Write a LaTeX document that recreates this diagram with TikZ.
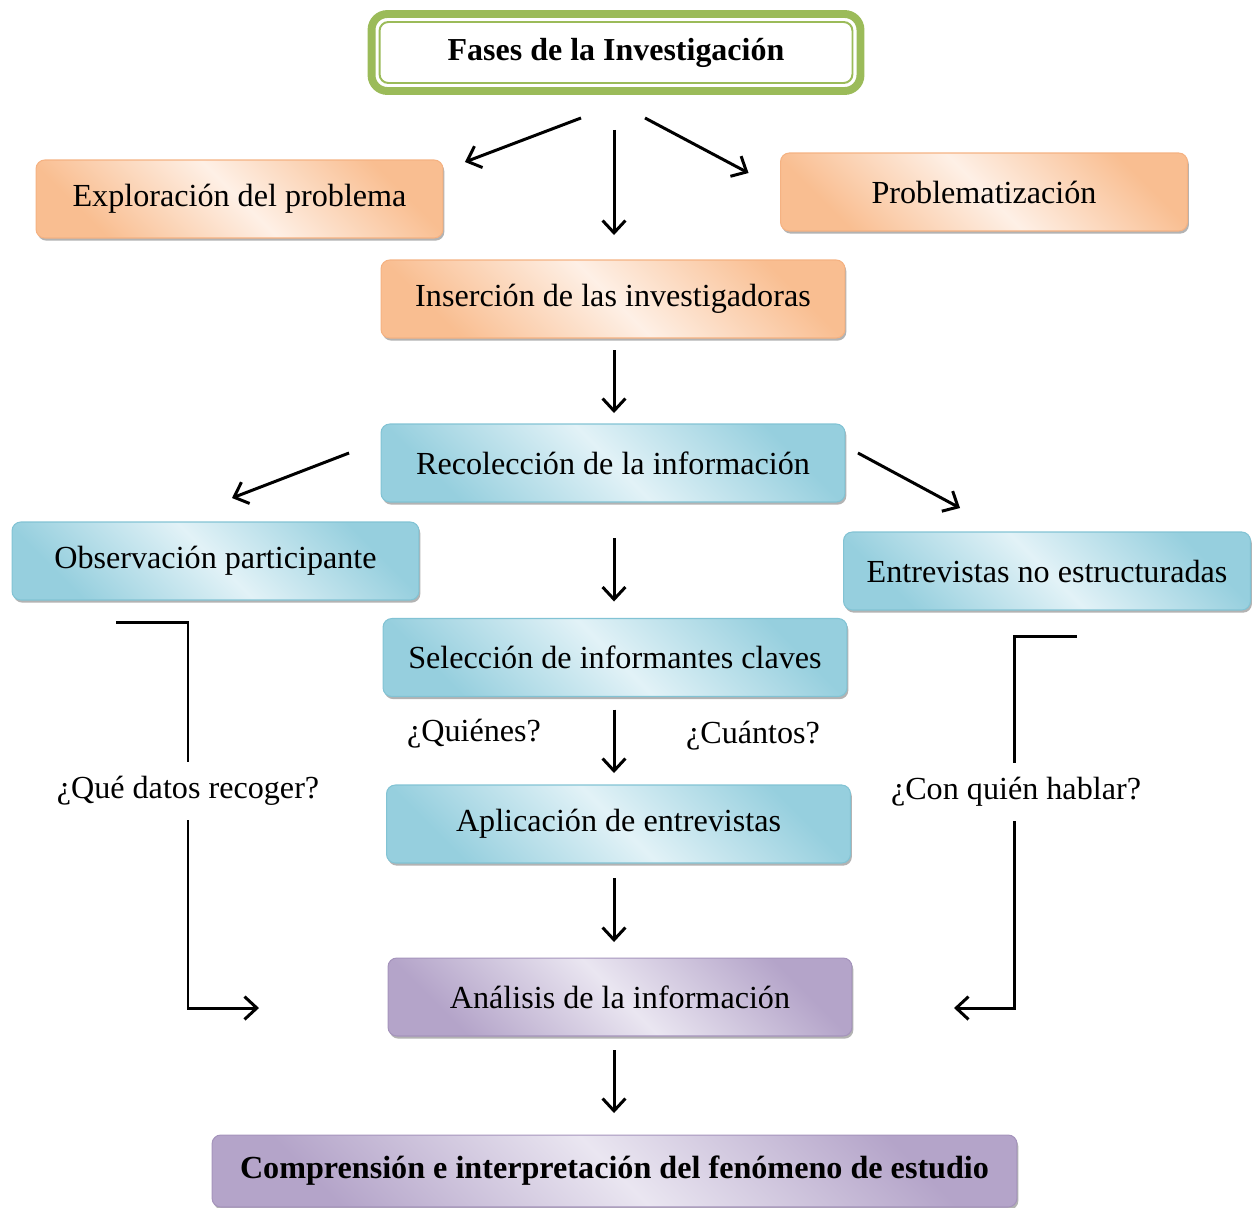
\documentclass[tikz,border=0pt]{standalone}
\usepackage{fontspec}
\setmainfont{Liberation Serif}
\usetikzlibrary{arrows.meta, positioning, calc, shadows}

\definecolor{titlegreen}{RGB}{155, 187, 89}
\definecolor{orangedark}{RGB}{249, 190, 145}
\definecolor{orangelight}{RGB}{254, 240, 230}
\definecolor{orangeline}{RGB}{245, 178, 130}
\definecolor{bluedark}{RGB}{150, 207, 222}
\definecolor{bluelight}{RGB}{226, 242, 247}
\definecolor{blueline}{RGB}{130, 195, 212}
\definecolor{purpledark}{RGB}{180, 164, 201}
\definecolor{purplelight}{RGB}{234, 230, 241}
\definecolor{purpleline}{RGB}{165, 148, 188}

\tikzset{
  phase/.style={rounded corners=5pt, outer sep=0pt, minimum height=1.56cm,
    font=\fontsize{18.3}{21}\selectfont, line width=0.6pt,
    drop shadow={shadow xshift=0.8pt, shadow yshift=-1.5pt, fill=black!50, opacity=0.6}},
  orangebox/.style={phase, minimum width=8.14cm, draw=orangeline,
    left color=orangedark, right color=orangedark, middle color=orangelight, shading angle=135},
  bluebox/.style={phase, minimum width=9.28cm, draw=blueline,
    left color=bluedark, right color=bluedark, middle color=bluelight, shading angle=135},
  purplebox/.style={phase, minimum width=9.28cm, draw=purpleline,
    left color=purpledark, right color=purpledark, middle color=purplelight, shading angle=135},
  question/.style={font=\fontsize{18.3}{21}\selectfont, inner ysep=8pt},
  line/.style={line width=1.7pt},
  arr/.style={line width=1.7pt, -{Straight Barb[length=7pt, width=13pt, line width=1.7pt]}}
}

\begin{document}
\begin{tikzpicture}[x=0.02cm, y=-0.02cm]
  \useasboundingbox (0,0) rectangle (1256,1207);

  % Title
  \node[draw=titlegreen, line width=4.5pt, rounded corners=9pt, fill=white, outer sep=0pt,
        minimum width=9.78cm, minimum height=1.54cm, font=\fontsize{18.2}{21}\selectfont\bfseries]
        (title) at (616,52.5) {Fases de la Investigación};
  \draw[titlegreen, line width=1.1pt, rounded corners=5pt]
        ([shift={(8,8)}]title.north west) rectangle ([shift={(-8,-8)}]title.south east);

  % First phases
  \node[orangebox] (explora) at (239.5,199) {Exploración del problema};
  \node[orangebox] (problema) at (984,192) {Problematización};
  \node[orangebox, minimum width=9.28cm] (insercion) at (613,299) {Inserción de las investigadoras};

  % Data collection
  \node[bluebox] (recoleccion) at (613,463) {Recolección de la información};
  \node[bluebox, minimum width=8.14cm] (observacion) at (215.5,561) {Observación participante};
  \node[bluebox, minimum width=8.14cm] (entrevistas) at (1047,571) {Entrevistas no estructuradas};
  \node[bluebox] (seleccion) at (615,657.5) {Selección de informantes claves};
  \node[bluebox] (aplicacion) at (618.5,824) {Aplicación de entrevistas};

  % Analysis
  \node[purplebox] (analisis) at (620,997) {Análisis de la información};
  \node[purplebox, minimum width=16.1cm, minimum height=1.44cm, font=\fontsize{18.3}{21}\selectfont\bfseries]
        (comprension) at (614.5,1171) {Comprensión e interpretación del fenómeno de estudio};

  % Questions
  \node[question] (quienes) at (474,734) {¿Quiénes?};
  \node[question] (cuantos) at (753,736) {¿Cuántos?};
  \node[question] (quedatos) at (188,791) {¿Qué datos recoger?};
  \node[question] (conquien) at (1016,792) {¿Con quién hablar?};

  % Arrows
  \draw[arr] ([shift={(-35,27)}]title.south) -- ([shift={(22,2)}]explora.north east);
  \draw[arr] ([shift={(-2,39)}]title.south) -- ([shift={(1,-25)}]insercion.north);
  \draw[arr] ([shift={(29,27)}]title.south) -- ([shift={(-32,20)}]problema.north west);
  \draw[arr] ([shift={(1,12)}]insercion.south) -- ([shift={(1,-11)}]recoleccion.north);
  \draw[arr] ([shift={(-32,-10)}]recoleccion.west) -- ([shift={(16.5,-24)}]observacion.north);
  \draw[arr] ([shift={(13,-10)}]recoleccion.east) -- ([shift={(-87,-24)}]entrevistas.north);
  \draw[arr] ([shift={(1,36)}]recoleccion.south) -- ([shift={(-1,-17)}]seleccion.north);
  \draw[arr] ([shift={(-1,13)}]seleccion.south) -- ([shift={(-4.5,-12)}]aplicacion.north);
  \draw[arr] ([shift={(-4.5,15)}]aplicacion.south) -- ([shift={(-6,-16)}]analisis.north);
  \draw[arr] ([shift={(-6,14)}]analisis.south) -- ([shift={(-0.5,-22)}]comprension.north);

  % Side paths
  \coordinate (obsstart) at (116,622);
  \coordinate (obsend) at (259,1008);
  \coordinate (entstart) at (1077,636);
  \coordinate (entend) at (954,1008);
  \draw[line] (obsstart) -| ([xshift=0pt]quedatos.north);
  \draw[arr] (quedatos.south) |- (obsend);
  \draw[line] (entstart) -| ([xshift=-1.1pt]conquien.north);
  \draw[arr] ([xshift=-1.1pt]conquien.south) |- (entend);
\end{tikzpicture}
\end{document}
